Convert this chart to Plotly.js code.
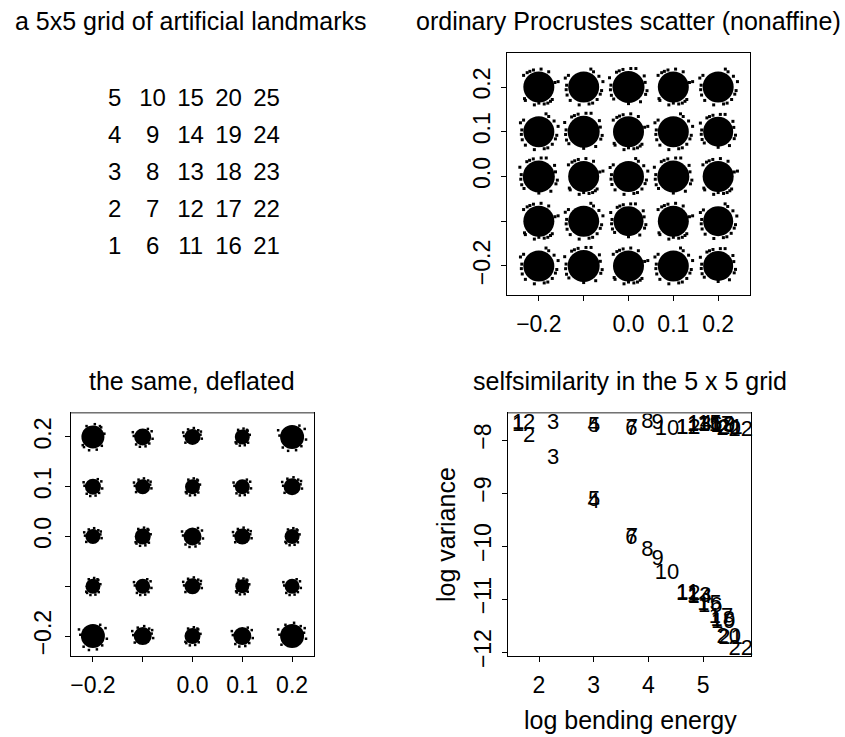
<!DOCTYPE html>
<html>
<head>
<meta charset="utf-8">
<script src="https://cdn.plot.ly/plotly-3.0.1.min.js"></script>
<style>html,body{margin:0;padding:0;background:#fff}#chart{width:845px;height:737px}</style>
</head>
<body>
<div id="chart"></div>
<script>
// ---- data ----
const landmarkNo = [1,2,3,4,5, 6,7,8,9,10, 11,12,13,14,15, 16,17,18,19,20, 21,22,23,24,25];
const landmarkX = [-0.2,-0.2,-0.2,-0.2,-0.2, -0.1,-0.1,-0.1,-0.1,-0.1, 0,0,0,0,0, 0.1,0.1,0.1,0.1,0.1, 0.2,0.2,0.2,0.2,0.2];
const landmarkY = [-0.2,-0.1,0,0.1,0.2, -0.2,-0.1,0,0.1,0.2, -0.2,-0.1,0,0.1,0.2, -0.2,-0.1,0,0.1,0.2, -0.2,-0.1,0,0.1,0.2];
// apparent cloud diameters (px) per landmark
const cloudSizeOrdinary = [31,31,32,31,31, 32,31,31,32,31, 31,30,31,31,32, 31,31,32,31,31, 30,30,31,30,31];
const cloudSizeDeflated = [24,15,15,16,23, 18,15,16,15,17, 16,16,18,15,16, 18,14,16,15,15, 24,15,15,17,24];
// stray-point offsets around a cloud (estimated, data units)
const strayOrdinaryDX = [0.036,0.030,-0.038,-0.020,0.012,0.040,-0.032,0.022,-0.041,0.005,-0.010,0.034,-0.026,0.043,-0.037,0.026,-0.034,0.016,0.000,-0.030,0.037,-0.012,0.020,-0.039];
const strayOrdinaryDY = [0.010,-0.028,0.004,0.035,-0.038,-0.008,-0.026,0.034,0.020,0.040,-0.040,0.024,0.032,0.012,-0.018,-0.032,0.026,0.040,-0.036,-0.030,-0.016,0.038,-0.036,-0.006];
const strayDeflatedDX = [0.018,0.014,-0.019,-0.010,0.006,0.021,-0.016,0.011,-0.021,0.003,-0.006,0.019,0.013,-0.014];
const strayDeflatedDY = [0.005,-0.014,0.002,0.017,-0.020,-0.004,-0.013,0.017,0.010,0.020,-0.021,0.012,0.015,-0.016];

const warpNo = ["1","2","3","4","5","6","7","8","9","10","11","12","13","14","15","16","17","18","19","20","21","22"];
const logBendingEnergy = [1.62,1.82,2.26,3.00,3.01,3.69,3.70,3.98,4.17,4.34,4.72,4.73,4.93,4.94,5.12,5.13,5.33,5.36,5.37,5.47,5.50,5.69];
const logVarOrdinary = [-7.68,-7.68,-7.68,-7.75,-7.74,-7.80,-7.79,-7.66,-7.68,-7.80,-7.78,-7.78,-7.72,-7.70,-7.70,-7.72,-7.72,-7.75,-7.73,-7.80,-7.78,-7.82];
const logVarDeflated = [-7.72,-7.94,-8.34,-9.17,-9.15,-9.85,-9.84,-10.08,-10.26,-10.51,-10.90,-10.92,-10.95,-10.97,-11.10,-11.15,-11.35,-11.40,-11.45,-11.72,-11.75,-11.96];

const gridTicks = [-0.2,-0.1,0,0.1,0.2];
const gridTickText = ["\u22120.2","","0.0","0.1","0.2"];
const beTicks = [2,3,4,5];
const beTickText = ["2","3","4","5"];
const lvTicks = [-12,-11,-10,-9,-8];
const lvTickText = ["\u221212","\u221211","\u221210","\u22129","\u22128"];

// ---- helpers ----
const FONT = "Liberation Sans, Arial, Helvetica, sans-serif";
function strays(dxs, dys, sizes, nominal) {
  const xs = [], ys = [];
  for (let k = 0; k < landmarkX.length; k++) {
    const s = sizes[k] / nominal;
    for (let j = 0; j < dxs.length; j++) {
      if ((j + k) % 3 === 0) continue;
      xs.push(landmarkX[k] + dxs[j] * s);
      ys.push(landmarkY[k] + dys[j] * s);
    }
  }
  return {x: xs, y: ys};
}
const sO = strays(strayOrdinaryDX, strayOrdinaryDY, cloudSizeOrdinary, 31);
const sD = strays(strayDeflatedDX, strayDeflatedDY, cloudSizeDeflated, 18);

const traces = [
  {x: landmarkX, y: landmarkY, text: landmarkNo.map(String), mode: 'text', type: 'scatter',
   textfont: {family: FONT, size: 24, color: '#000'}, xaxis: 'x', yaxis: 'y', hoverinfo: 'none', cliponaxis: false},
  {x: landmarkX, y: landmarkY, mode: 'markers', type: 'scatter', xaxis: 'x2', yaxis: 'y2',
   marker: {size: cloudSizeOrdinary, color: '#000', opacity: 1, line: {width: 0}}, hoverinfo: 'none'},
  {x: sO.x, y: sO.y, mode: 'markers', type: 'scatter', xaxis: 'x2', yaxis: 'y2',
   marker: {size: 3, symbol: 'square', color: '#000', opacity: 1, line: {width: 0}}, hoverinfo: 'none'},
  {x: landmarkX, y: landmarkY, mode: 'markers', type: 'scatter', xaxis: 'x3', yaxis: 'y3',
   marker: {size: cloudSizeDeflated, color: '#000', opacity: 1, line: {width: 0}}, hoverinfo: 'none'},
  {x: sD.x, y: sD.y, mode: 'markers', type: 'scatter', xaxis: 'x3', yaxis: 'y3',
   marker: {size: 2.5, symbol: 'square', color: '#000', opacity: 1, line: {width: 0}}, hoverinfo: 'none'},
  {x: logBendingEnergy, y: logVarOrdinary, text: warpNo, mode: 'text', type: 'scatter', xaxis: 'x4', yaxis: 'y4',
   textfont: {family: FONT, size: 22, color: '#000'}, hoverinfo: 'none', cliponaxis: false},
  {x: logBendingEnergy, y: logVarDeflated, text: warpNo, mode: 'text', type: 'scatter', xaxis: 'x4', yaxis: 'y4',
   textfont: {family: FONT, size: 22, color: '#000'}, hoverinfo: 'none', cliponaxis: false}
];

const W = 845, H = 737;
const dx = (a, b) => [a / W, b / W];
const dy = (top, bot) => [1 - bot / H, 1 - top / H];

function boxAxis(extra) {
  return Object.assign({
    showline: true, mirror: true, linecolor: '#000', linewidth: 1,
    showgrid: false, zeroline: false, ticks: 'outside', ticklen: 5, tickwidth: 1, tickcolor: '#000',
    tickfont: {family: FONT, size: 23, color: '#000'}, ticklabelstandoff: 3, fixedrange: true
  }, extra);
}
const hidden = {visible: false, showgrid: false, zeroline: false, fixedrange: true};

const layout = {
  width: W, height: H, margin: {l: 0, r: 0, t: 0, b: 0},
  paper_bgcolor: '#fff', plot_bgcolor: '#fff', showlegend: false,
  font: {family: FONT, color: '#000'},
  xaxis: Object.assign({}, hidden, {domain: dx(71, 314), range: [-0.315, 0.325], anchor: 'y'}),
  yaxis: Object.assign({}, hidden, {domain: dy(53, 295), range: [-0.328, 0.328], anchor: 'x'}),
  xaxis2: boxAxis({domain: dx(507, 750), range: [-0.271, 0.271], anchor: 'y2', tickvals: gridTicks, ticktext: gridTickText}),
  yaxis2: boxAxis({domain: dy(53, 295), range: [-0.265, 0.276], anchor: 'x2', tickvals: gridTicks, ticktext: gridTickText, tickangle: -90, ticklabelstandoff: 2}),
  xaxis3: boxAxis({domain: dx(71, 314), range: [-0.244, 0.244], anchor: 'y3', tickvals: gridTicks, ticktext: gridTickText}),
  yaxis3: boxAxis({domain: dy(413, 656), range: [-0.240, 0.248], anchor: 'x3', tickvals: gridTicks, ticktext: gridTickText, tickangle: -90, ticklabelstandoff: 5}),
  xaxis4: boxAxis({domain: dx(508, 751), range: [1.433, 5.877], anchor: 'y4', tickvals: beTicks, ticktext: beTickText}),
  yaxis4: boxAxis({domain: dy(413, 656), range: [-12.075, -7.49], anchor: 'x4', tickvals: lvTicks, ticktext: lvTickText, tickangle: -90, ticklabelstandoff: 2}),
  shapes: [
    {type: 'line', xref: 'paper', yref: 'paper', x0: 71 / W, x1: 314 / W, y0: 1 - 413 / H, y1: 1 - 413 / H, line: {color: '#9a9a9a', width: 1.5}, layer: 'above'},
    {type: 'line', xref: 'paper', yref: 'paper', x0: 508 / W, x1: 751 / W, y0: 1 - 413 / H, y1: 1 - 413 / H, line: {color: '#9a9a9a', width: 1.5}, layer: 'above'}
  ],
  annotations: [
    {text: 'a 5x5 grid of artificial landmarks', x: 191 / W, y: 1 - 21 / H},
    {text: 'ordinary Procrustes scatter (nonaffine)', x: 628 / W, y: 1 - 21 / H},
    {text: 'the same, deflated', x: 192 / W, y: 1 - 381 / H},
    {text: 'selfsimilarity in the 5 x 5 grid', x: 630 / W, y: 1 - 381 / H},
    {text: 'log bending energy', x: 630 / W, y: 1 - 720 / H},
    {text: 'log variance', x: 446 / W, y: 1 - 535 / H, textangle: -90}
  ].map(a => Object.assign({xref: 'paper', yref: 'paper', xanchor: 'center', yanchor: 'middle', showarrow: false,
    font: {family: FONT, size: 25, color: '#000'}}, a))
};

Plotly.newPlot('chart', traces, layout, {staticPlot: true, displayModeBar: false});
</script>
</body>
</html>
